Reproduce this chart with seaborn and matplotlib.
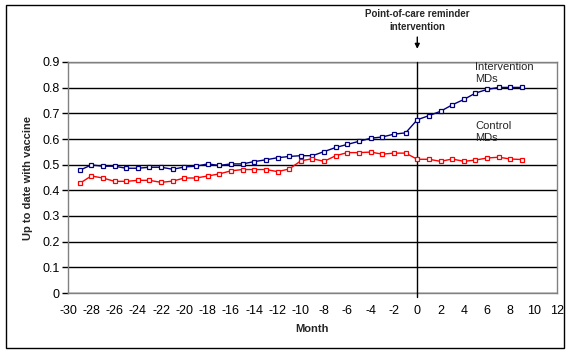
import matplotlib
matplotlib.use("Agg")
import matplotlib.pyplot as plt
import pandas as pd
import seaborn as sns
from matplotlib.patches import Rectangle

months = list(range(-29, 10))
intervention = [
    0.478, 0.499, 0.494, 0.494, 0.486, 0.486, 0.490, 0.490, 0.482, 0.491,
    0.494, 0.503, 0.497, 0.503, 0.503, 0.512, 0.519, 0.527, 0.532, 0.535,
    0.535, 0.551, 0.567, 0.579, 0.591, 0.603, 0.608, 0.619, 0.624, 0.675,
    0.691, 0.708, 0.733, 0.754, 0.779, 0.793, 0.801, 0.801, 0.801,
]
control = [
    0.427, 0.456, 0.448, 0.435, 0.435, 0.439, 0.439, 0.431, 0.436, 0.448,
    0.448, 0.456, 0.464, 0.476, 0.481, 0.481, 0.481, 0.473, 0.483, 0.515,
    0.523, 0.513, 0.535, 0.547, 0.547, 0.549, 0.541, 0.545, 0.545, 0.521,
    0.521, 0.513, 0.522, 0.513, 0.518, 0.526, 0.529, 0.522, 0.520,
]
x_ticks = list(range(-30, 13, 2))
y_ticks = [0, 0.1, 0.2, 0.3, 0.4, 0.5, 0.6, 0.7, 0.8, 0.9]

df = pd.DataFrame({"month": months, "Intervention MDs": intervention, "Control MDs": control})

sns.set_theme(style="white")
plt.rcParams["font.family"] = ["Liberation Sans", "DejaVu Sans"]

fig = plt.figure(figsize=(5.76, 3.54), dpi=100)
ax = fig.add_axes([68 / 576, 61 / 354, 489 / 576, 231 / 354])

sns.lineplot(data=df, x="month", y="Intervention MDs", ax=ax, color="#000080", lw=1,
             marker="s", markersize=3.2, markerfacecolor="white", markeredgecolor="#000080",
             markeredgewidth=0.9, zorder=4)
sns.lineplot(data=df, x="month", y="Control MDs", ax=ax, color="#ff0000", lw=1,
             marker="s", markersize=3.2, markerfacecolor="white", markeredgecolor="#ff0000",
             markeredgewidth=0.9, zorder=4)

ax.set_xlim(-30, 12)
ax.set_ylim(0, 0.9)
ax.set_xticks(x_ticks)
ax.set_yticks(y_ticks)
ax.set_xticklabels([str(t) for t in x_ticks])
ax.set_yticklabels(["0"] + [f"{t:.1f}" for t in y_ticks[1:]])
ax.tick_params(axis="both", labelsize=9, colors="black")
ax.tick_params(axis="y", length=4, width=1, direction="out", left=True, pad=2)
ax.tick_params(axis="x", length=0, pad=8.5)
ax.yaxis.grid(True, color="black", lw=1)
ax.set_axisbelow(True)
for s in ax.spines.values():
    s.set_color("#808080")
    s.set_linewidth(1)

ax.plot([0, 0], [-0.015, 0.9], color="black", lw=1, clip_on=False, zorder=3)

ax.set_xlabel("Month", fontsize=8, fontweight="bold", labelpad=5)
ax.set_ylabel("Up to date with vaccine", fontsize=8, fontweight="bold", labelpad=7)

ax.annotate("", xy=(0, 1.045), xytext=(0, 1.12), xycoords=("data", "axes fraction"),
            textcoords=("data", "axes fraction"),
            arrowprops=dict(arrowstyle="-|>", color="black", lw=1, mutation_scale=7),
            annotation_clip=False)
ax.text(0, 1.178, "Point-of-care reminder\nintervention", transform=ax.get_xaxis_transform(),
        ha="center", va="center", fontsize=7, fontweight="bold", linespacing=1.35)

ax.text(5.0, 0.9, "Intervention\nMDs", ha="left", va="top", fontsize=8, linespacing=1.25)
ax.text(5.0, 0.672, "Control\nMDs", ha="left", va="top", fontsize=8, linespacing=1.25)

fig.patches.append(Rectangle((6 / 576, 6 / 354), 558 / 576, 343 / 354, transform=fig.transFigure,
                             fill=False, edgecolor="black", lw=1))

fig.savefig("out.png", dpi=100)
